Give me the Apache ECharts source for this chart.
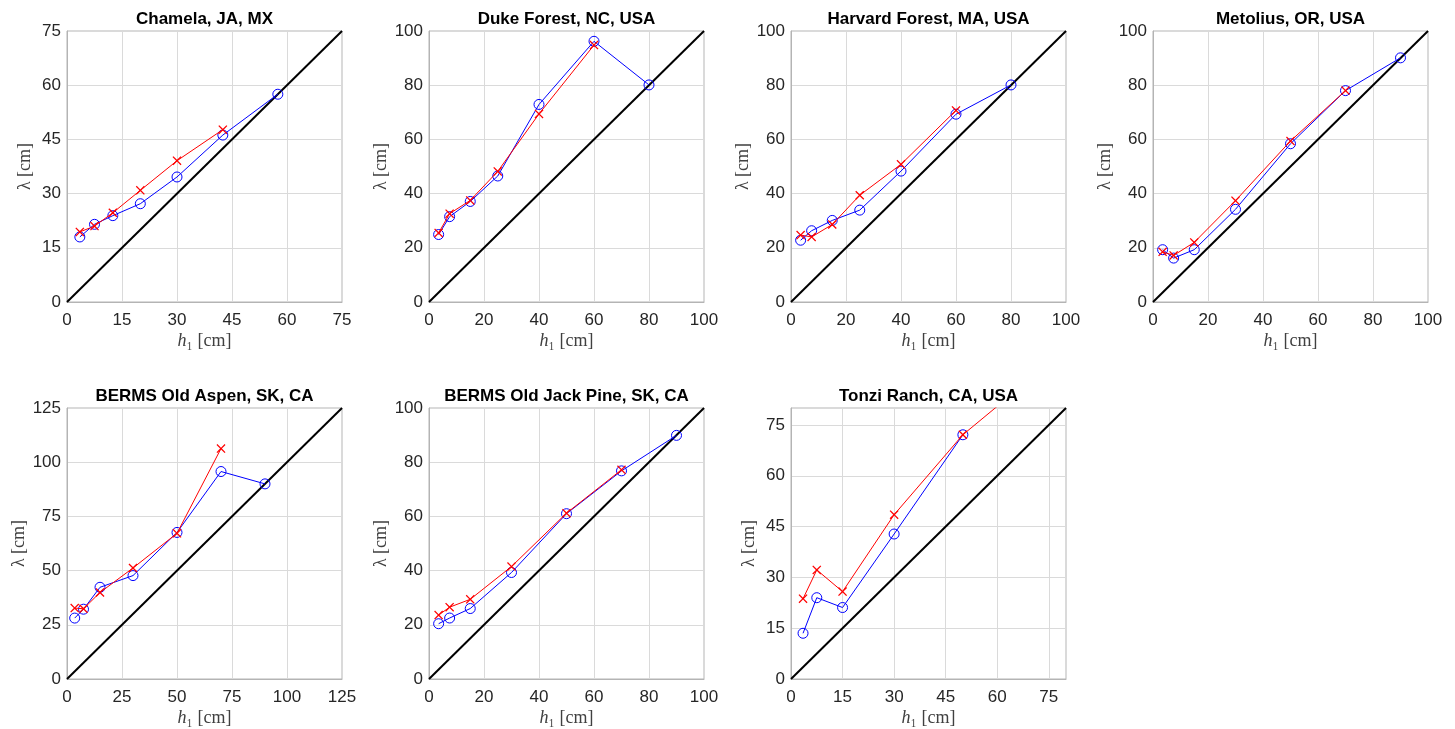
<!DOCTYPE html>
<html>
<head>
<meta charset="utf-8">
<script src="https://cdn.jsdelivr.net/npm/echarts/dist/echarts.min.js"></script>
<style>
  html, body { margin: 0; padding: 0; background: #fff; }
  #chart { width: 1455px; height: 729px; }
</style>
</head>
<body>
<div id="chart"></div>
<script>
// site titles
const siteNames = [
  'Chamela, JA, MX',
  'Duke Forest, NC, USA',
  'Harvard Forest, MA, USA',
  'Metolius, OR, USA',
  'BERMS Old Aspen, SK, CA',
  'BERMS Old Jack Pine, SK, CA',
  'Tonzi Ranch, CA, USA',
]

// h1 [cm] per site
const h1Chamela = [3.5, 7.5, 12.5, 20, 30, 42.5, 57.5]
const h1Duke = [3.5, 7.5, 15, 25, 40, 60, 80]
const h1Harvard = [3.5, 7.5, 15, 25, 40, 60, 80]
const h1Metolius = [3.5, 7.5, 15, 30, 50, 70, 90]
const h1Aspen = [3.5, 7.5, 15, 30, 50, 70, 90]
const h1JackPine = [3.5, 7.5, 15, 30, 50, 70, 90]
const h1Tonzi = [3.5, 7.5, 15, 30, 50, 60]

// lambda [cm], blue circles
const circChamela = [18.0, 21.5, 23.9, 27.2, 34.6, 46.2, 57.5]
const circDuke = [24.9, 31.5, 37.1, 46.5, 72.9, 96.2, 80.1]
const circHarvard = [22.8, 26.3, 30.1, 33.9, 48.3, 69.3, 80.1]
const circMetolius = [19.3, 16.2, 19.3, 34.2, 58.4, 78.0, 90.1]
const circAspen = [28.1, 32.2, 42.3, 47.7, 67.6, 95.7, 90.0]
const circJackPine = [20.4, 22.5, 26.0, 39.3, 61.0, 76.8, 89.9]
const circTonzi = [13.5, 24.0, 21.1, 42.8, 72.1]

// lambda [cm], red crosses
const crossChamela = [19.4, 21.0, 24.7, 30.9, 39.1, 47.7]
const crossDuke = [25.5, 32.6, 37.5, 48.2, 69.4, 94.8]
const crossHarvard = [24.7, 24.0, 28.6, 39.4, 50.8, 70.7]
const crossMetolius = [18.5, 17.2, 22.0, 37.4, 59.4, 78.0]
const crossAspen = [32.7, 32.4, 39.9, 51.2, 67.2, 106.3]
const crossJackPine = [23.6, 26.5, 29.4, 41.5, 61.2, 77.2]
const crossTonzi = [23.7, 32.2, 25.8, 48.5, 72.1, 80.5]

// axis limits and tick spacing
const axisMax = [75, 100, 100, 100, 125, 100, 80]
const tickStep = [15, 20, 20, 20, 25, 20, 15]

const panels = [
  { h: h1Chamela, circ: circChamela, cross: crossChamela },
  { h: h1Duke, circ: circDuke, cross: crossDuke },
  { h: h1Harvard, circ: circHarvard, cross: crossHarvard },
  { h: h1Metolius, circ: circMetolius, cross: crossMetolius },
  { h: h1Aspen, circ: circAspen, cross: crossAspen },
  { h: h1JackPine, circ: circJackPine, cross: crossJackPine },
  { h: h1Tonzi, circ: circTonzi, cross: crossTonzi },
]

const colLeft = [67, 429, 791, 1153]
const rowTop = [31, 408]
const boxW = 275
const boxH = 271

const crossPath = 'path://M0,1L1,0L5,4L9,0L10,1L6,5L10,9L9,10L5,6L1,10L0,9L4,5Z'
const textColor = '#262626'
const frameColor = '#b4b4b4'

const chartInstance = echarts.init(document.getElementById('chart'))

const grids = []
const xAxes = []
const yAxes = []
const series = []
const titles = []

panels.forEach((p, i) => {
  const left = colLeft[i % 4]
  const top = rowTop[Math.floor(i / 4)]
  const max = axisMax[i]
  const step = tickStep[i]
  // Tonzi: max is not on a tick, so no label there
  const maxLabel = max % step === 0

  grids.push({
    left: left,
    top: top,
    width: boxW,
    height: boxH,
    show: true,
    borderColor: frameColor,
    borderWidth: 1,
    backgroundColor: '#fff',
  })

  const common = {
    gridIndex: i,
    type: 'value',
    min: 0,
    max: max,
    interval: step,
    axisLine: { show: true, onZero: false, lineStyle: { color: frameColor, width: 1 } },
    axisTick: { show: false },
    splitLine: { show: true, lineStyle: { color: '#dadada', width: 1 } },
    axisLabel: {
      color: textColor,
      fontSize: 17,
      fontFamily: 'Liberation Sans',
      showMaxLabel: maxLabel,
      showMinLabel: true,
    },
    nameLocation: 'middle',
    nameTextStyle: {
      color: '#404040',
      fontSize: 18,
      fontFamily: 'Liberation Serif',
      rich: {
        i: { fontStyle: 'italic', fontSize: 18, fontFamily: 'Liberation Serif', color: '#404040' },
      },
    },
  }

  xAxes.push({
    ...common,
    axisLabel: { ...common.axisLabel, margin: 10 },
    name: '{i|h}₁ [cm]',
    nameGap: 30,
  })
  yAxes.push({
    ...common,
    axisLabel: { ...common.axisLabel, margin: 6 },
    name: 'λ [cm]',
    nameGap: 33,
  })

  // 1:1 line
  series.push({
    type: 'line',
    xAxisIndex: i,
    yAxisIndex: i,
    data: [[0, 0], [max, max]],
    showSymbol: false,
    silent: true,
    lineStyle: { color: '#000', width: 2 },
    z: 1,
  })
  series.push({
    type: 'line',
    xAxisIndex: i,
    yAxisIndex: i,
    data: p.circ.map((v, k) => [p.h[k], v]),
    symbol: 'circle',
    symbolSize: 10,
    itemStyle: { color: 'rgba(0,0,0,0)', borderColor: '#0000ff', borderWidth: 1 },
    lineStyle: { color: '#0000ff', width: 1 },
    clip: true,
    z: 2,
  })
  series.push({
    type: 'line',
    xAxisIndex: i,
    yAxisIndex: i,
    data: p.cross.map((v, k) => [p.h[k], v]),
    symbol: crossPath,
    symbolSize: 9,
    itemStyle: { color: '#ff0000', borderWidth: 0 },
    lineStyle: { color: '#ff0000', width: 1 },
    clip: true,
    z: 3,
  })

  titles.push({
    type: 'text',
    x: left + boxW / 2,
    y: top - 12,
    style: {
      text: siteNames[i],
      fill: '#000',
      font: 'bold 17px "Liberation Sans"',
      textAlign: 'center',
      textVerticalAlign: 'middle',
    },
  })
})

chartInstance.setOption({
  animation: false,
  backgroundColor: '#fff',
  grid: grids,
  xAxis: xAxes,
  yAxis: yAxes,
  series: series,
  graphic: titles,
})
</script>
</body>
</html>
